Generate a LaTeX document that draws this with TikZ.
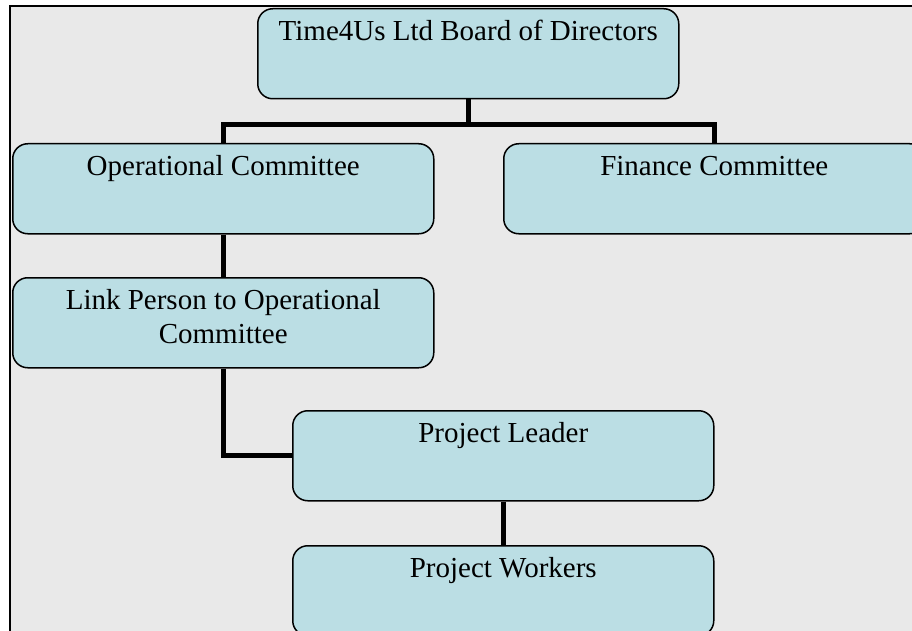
\documentclass[tikz,border=0pt]{standalone}
\usepackage{fontspec}
\setmainfont{Liberation Serif}
\usepackage{tikz}
\definecolor{boxblue}{RGB}{187,222,228}
\definecolor{pagegray}{RGB}{233,233,233}
\tikzset{
  orgbox/.style={draw=black, line width=1.5pt, fill=boxblue, rounded corners=15pt,
    minimum width=421pt, minimum height=90pt, inner sep=0pt, anchor=north west,
    align=center, font=\fontsize{29}{34}\selectfont,
    text height=32pt, text depth=58pt},
  twolines/.style={text height=66pt, text depth=24pt},
  orgline/.style={line width=5pt}
}
\begin{document}
\begin{tikzpicture}[x=1pt, y=-1pt]
\clip (0,0) rectangle (912,631);
% page
\fill[white] (0,0) rectangle (912,631);
\filldraw[fill=pagegray, line width=2pt] (10,6) rectangle (940,660);
% boxes
\node[orgbox] (board)   at (257,8)   {Time4Us Ltd Board of Directors};
\node[orgbox] (opcom)   at (12,143)  {Operational Committee};
\node[orgbox] (fincom)  at (503,143) {Finance Committee};
\node[orgbox, twolines] (link) at (12,277) {Link Person to Operational\\Committee};
\node[orgbox] (leader)  at (292,410) {Project Leader};
\node[orgbox] (workers) at (292,545) {Project Workers};
% connectors
\draw[orgline] (board.south) -- ++(0,25) -| (opcom.north);
\draw[orgline] (board.south) -- ++(0,25) -| (fincom.north);
\draw[orgline] (opcom) -- (link);
\draw[orgline] (link.south) |- (leader.west);
\draw[orgline] (leader) -- (workers);
\end{tikzpicture}
\end{document}
